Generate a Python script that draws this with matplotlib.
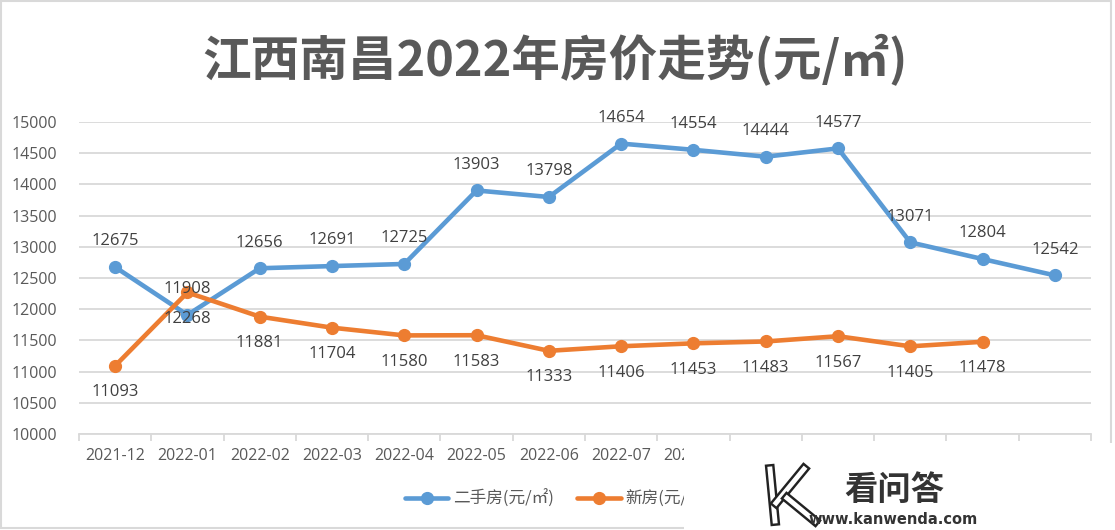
import matplotlib
matplotlib.use("Agg")
import matplotlib.pyplot as plt
from matplotlib.patches import Rectangle
from matplotlib.lines import Line2D
import matplotlib.patheffects as pe

plt.rcParams['font.family'] = ['Open Sans', 'Noto Sans CJK SC', 'DejaVu Sans']

# ---- data ----
months = ["2021-12", "2022-01", "2022-02", "2022-03", "2022-04", "2022-05", "2022-06",
          "2022-07", "2022-08", "2022-09", "2022-10", "2022-11", "2022-12", "2023-01"]
second_hand = [12675, 11908, 12656, 12691, 12725, 13903, 13798,
               14654, 14554, 14444, 14577, 13071, 12804, 12542]
new_house = [11093, 12268, 11881, 11704, 11580, 11583, 11333,
             11406, 11453, 11483, 11567, 11405, 11478]
series_names = ["二手房(元/㎡)", "新房(元/㎡)"]
title = "江西南昌2022年房价走势(元/㎡)"
y_ticks = list(range(10000, 15001, 500))

BLUE = "#5B9BD5"
ORANGE = "#ED7D31"
GRID = "#D9D9D9"
TXT = "#595959"
LBL = "#404040"

W, H = 1115, 530
fig = plt.figure(figsize=(W / 100, H / 100), dpi=100)
fig.patch.set_facecolor("white")

ax = fig.add_axes([79 / W, 1 - 434 / H, (1091 - 79) / W, (434 - 122) / H])
ax.set_facecolor("white")

xs1 = list(range(len(second_hand)))
xs2 = list(range(len(new_house)))
ax.plot(xs1, second_hand, color=BLUE, lw=3.3, marker="o", ms=8.5,
        solid_capstyle="round", solid_joinstyle="round", label=series_names[0], zorder=4)
ax.plot(xs2, new_house, color=ORANGE, lw=3.3, marker="o", ms=8.5,
        solid_capstyle="round", solid_joinstyle="round", label=series_names[1], zorder=4)

for x, v in zip(xs1, second_hand):
    ax.annotate(str(v), (x, v), xytext=(0, 18.5), textcoords="offset points",
                ha="center", va="center", fontsize=12, color=LBL, zorder=5)
for x, v in zip(xs2, new_house):
    ax.annotate(str(v), (x, v), xytext=(0, -19), textcoords="offset points",
                ha="center", va="center", fontsize=12, color=LBL, zorder=5)

ax.set_xlim(-0.5, len(months) - 0.5)
ax.set_ylim(10000, 15000)
ax.set_yticks(y_ticks)
ax.set_yticklabels([str(t) for t in y_ticks])
ax.set_xticks(range(len(months)))
ax.set_xticklabels(months)
ax.set_xticks([i - 0.5 for i in range(len(months) + 1)], minor=True)

ax.tick_params(axis="y", length=0, pad=16, labelsize=11.5, labelcolor=TXT)
ax.tick_params(axis="x", which="major", length=0, pad=10, labelsize=11.5, labelcolor=TXT)
ax.tick_params(axis="x", which="minor", length=5, width=1.3, color=GRID, direction="out")

ax.yaxis.grid(True, color=GRID, lw=1.3)
ax.set_axisbelow(True)
for s in ["top", "right", "left"]:
    ax.spines[s].set_visible(False)
ax.spines["bottom"].set_color(GRID)
ax.spines["bottom"].set_linewidth(1.3)

fig.text(0.498, 1 - 60 / H, title, ha="center", va="center", fontsize=35,
         fontweight="bold", color=TXT, family=["Noto Sans CJK SC", "DejaVu Sans"])

leg = fig.legend(loc="center", bbox_to_anchor=(0.5, 1 - 499 / H), ncol=2, frameon=False,
                 handlelength=2.6, handletextpad=0.3, columnspacing=1.4,
                 prop={"family": ["Noto Sans CJK SC", "DejaVu Sans"], "size": 12})
for t in leg.get_texts():
    t.set_color(TXT)

# figure border
fig.add_artist(Rectangle((1 / W, 1 - 528 / H), 1110 / W, 527 / H, transform=fig.transFigure,
                         fill=False, edgecolor=GRID, lw=1.5))

# watermark overlay
fig.add_artist(Rectangle((684 / W, 0), (W - 684) / W, (530 - 443) / H, transform=fig.transFigure,
                         facecolor="white", edgecolor="none", zorder=10))
stroke = [pe.Stroke(linewidth=7, foreground="#222222"), pe.Stroke(linewidth=3.5, foreground="white")]
for (x0, y0), (x1, y1) in [((770, 469), (775, 521)), ((804, 469), (776, 503)), ((787, 498), (815, 521))]:
    fig.add_artist(Line2D([x0 / W, x1 / W], [1 - y0 / H, 1 - y1 / H], transform=fig.transFigure,
                          color="white", lw=3.5, path_effects=stroke, zorder=11))
fig.text(894 / W, 1 - 490 / H, "看问答", ha="center", va="center", fontsize=24, fontweight="bold",
         color="#333333", family=["Noto Sans CJK SC"], zorder=12)
fig.text(893 / W, 1 - 519 / H, "www.kanwenda.com", ha="center", va="center", fontsize=10.5,
         fontweight="bold", color="#333333", family=["DejaVu Sans"], zorder=12)

fig.savefig("out.png", dpi=100, facecolor="white")
